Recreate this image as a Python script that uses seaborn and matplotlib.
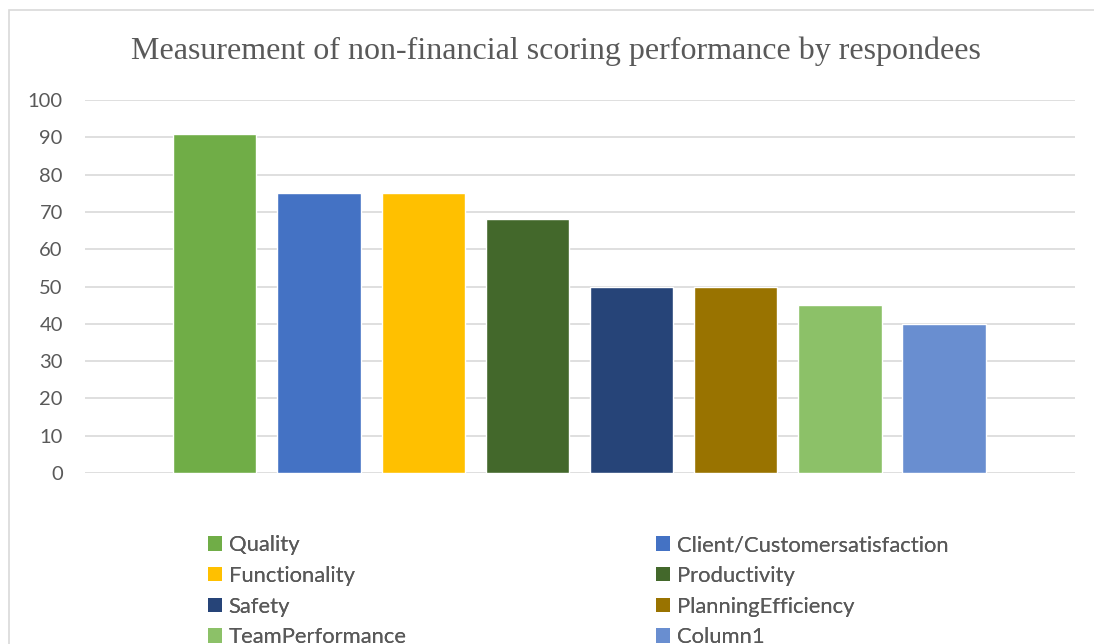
import matplotlib
matplotlib.use("Agg")
import matplotlib.pyplot as plt
from matplotlib.patches import Patch, Rectangle
import pandas as pd
import seaborn as sns

categories = [
    "Quality",
    "Client/Customersatisfaction",
    "Functionality",
    "Productivity",
    "Safety",
    "PlanningEfficiency",
    "TeamPerformance",
    "Column1",
]
scores = [91, 75, 75, 68, 50, 50, 45, 40]
bar_colors = ["#70AD47", "#4472C4", "#FFC000", "#43682B",
              "#264478", "#997300", "#8CC168", "#698ED0"]
y_ticks = list(range(0, 101, 10))
title = "Measurement of non-financial scoring performance by respondees"

df = pd.DataFrame({"measure": categories, "score": scores})

sns.set_style("white")
plt.rcParams["font.family"] = ["Lato", "DejaVu Sans"]

W, H = 1094, 644
fig = plt.figure(figsize=(W / 100, H / 100), dpi=100)
ax = fig.add_axes([85 / W, 1 - 473 / H, (1075 - 85) / W, (473 - 100) / H])

sns.barplot(
    data=df, x="measure", y="score", hue="measure",
    palette=dict(zip(categories, bar_colors)),
    width=0.8, saturation=1, legend=False, ax=ax,
)

ax.set_xlim(-1.246, 8.256)
ax.set_ylim(0, 100)
ax.set_yticks(y_ticks)
ax.set_xticks([])
ax.set_xlabel("")
ax.set_ylabel("")
ax.yaxis.grid(True, color="#D9D9D9", linewidth=1.2)
ax.set_axisbelow(True)
for s in ax.spines.values():
    s.set_visible(False)
ax.tick_params(axis="y", length=0, pad=16, labelsize=14.5, labelcolor="#595959")

fig.text(556 / W, 1 - 51 / H, title, ha="center", va="center",
         family="Liberation Serif", fontsize=23, color="#595959")

# outer chart border (right/bottom run off the picture)
fig.patches.append(Rectangle((8.5 / W, -0.1), 1.2, 1 - 10.5 / H + 0.1,
                             transform=fig.transFigure, fill=False,
                             edgecolor="#D9D9D9", linewidth=1.2))

# legend laid out row-wise in two columns
handles = [Patch(facecolor=c, edgecolor="none") for c in bar_colors]
for col, x0 in enumerate([208, 656]):
    idx = [col, col + 2, col + 4, col + 6]
    leg = fig.legend(
        [handles[i] for i in idx], [categories[i] for i in idx],
        loc="upper left", bbox_to_anchor=(x0 / W, 1 - 535 / H),
        frameon=False, fontsize=15.8, labelcolor="#595959",
        handlelength=0.64, handleheight=0.64, handletextpad=0.3,
        labelspacing=0.49, borderpad=0, borderaxespad=0,
    )
    fig.add_artist(leg)

fig.savefig("out.png", dpi=100)
